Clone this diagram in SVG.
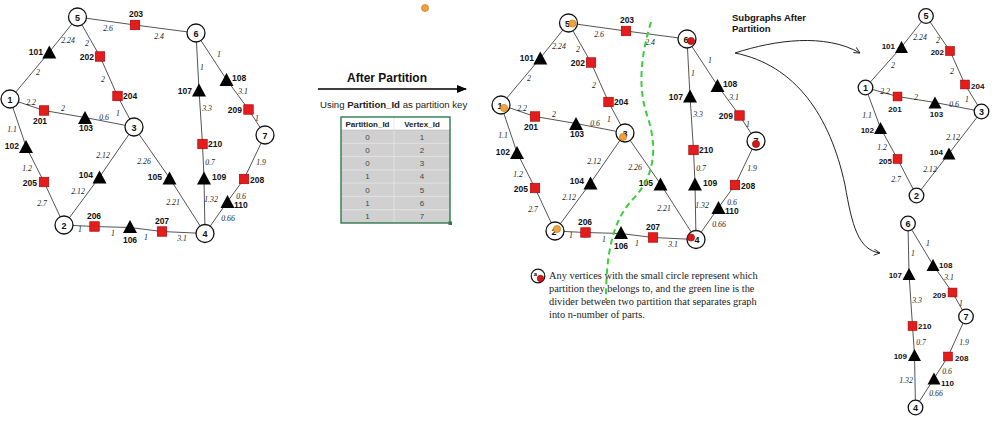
<svg xmlns="http://www.w3.org/2000/svg" xmlns:xlink="http://www.w3.org/1999/xlink" width="999" height="421" viewBox="0 0 999 421">
<style>
.e{stroke:#555;stroke-width:1;fill:none}
.c{fill:#fff;stroke:#111;stroke-width:1.3}
.n{font:bold 9px "Liberation Sans",Arial,sans-serif;fill:#111;text-anchor:middle}
.id{font:bold 8.5px "Liberation Sans",Arial,sans-serif;fill:#111}
.id2{font:bold 8px "Liberation Sans",Arial,sans-serif;fill:#111}
.w{font:italic 7.8px "Liberation Serif","Times New Roman",serif;fill:#222;text-anchor:middle}
.m{text-anchor:middle}.s{text-anchor:start}.x{text-anchor:end}
.od{fill:#f2a23a;stroke:#b96d10;stroke-width:0.6}
.rd{fill:#d81818;stroke:#7a0000;stroke-width:0.6}
.tb{font:8px "Liberation Sans",Arial,sans-serif;fill:#444;text-anchor:middle}
.th{font:bold 8px "Liberation Sans",Arial,sans-serif;fill:#222;text-anchor:middle}
.lg{font:10.4px "Liberation Serif","Times New Roman",serif;fill:#222}
</style>
<defs>
<polygon id="tri" points="0,-6.5 7,6.5 -7,6.5" fill="#000"/>
<polygon id="tri2" points="0,-6 6.5,6 -6.5,6" fill="#000"/>
<rect id="sq" x="-4.75" y="-4.75" width="9.5" height="9.5" fill="#e41c1c" stroke="#9a0000" stroke-width="0.6"/>
<rect id="sq2" x="-4.4" y="-4.4" width="8.8" height="8.8" fill="#e41c1c" stroke="#9a0000" stroke-width="0.6"/>
<marker id="ah" viewBox="0 0 10 8" refX="9" refY="4" markerWidth="10" markerHeight="8" markerUnits="userSpaceOnUse" orient="auto"><path d="M0,0 L10,4 L0,8 Z" fill="#000"/></marker>
<marker id="av" viewBox="0 0 8 8" refX="7" refY="4" markerWidth="7" markerHeight="7" markerUnits="userSpaceOnUse" orient="auto"><path d="M0,0.5 L7,4 L0,7.5" fill="none" stroke="#222" stroke-width="1"/></marker>
</defs>
<rect width="999" height="421" fill="#fff"/>

<!-- LEFT GRAPH -->
<g id="left-graph">
<g id="L-edges">
<polyline class="e" points="77.5,17 135,25 196,33"/>
<polyline class="e" points="77.5,17 49.3,52 10,99"/>
<polyline class="e" points="77.5,17 100,56.5 117.5,96 134,127"/>
<polyline class="e" points="10,99 44,110.5 85,117.5 134,127"/>
<polyline class="e" points="10,99 26,146.5 44,182 64,225"/>
<polyline class="e" points="134,127 99.5,177 64,225"/>
<polyline class="e" points="64,225 94.5,226.5 130,227.5 162,231.5 205,233.5"/>
<polyline class="e" points="134,127 169.5,178 205,233.5"/>
<polyline class="e" points="196,33 199,90 202.5,144 204,178 205,233.5"/>
<polyline class="e" points="196,33 226.5,79.5 248.5,109.5 265,135"/>
<polyline class="e" points="265,135 244,179 227.5,201.5 205,233.5"/>
</g>
<g id="L-weights">
<text class="w" x="108" y="31">2.6</text><text class="w" x="159" y="39">2.4</text>
<text class="w" x="68" y="43">2.24</text><text class="w" x="38" y="75">2</text>
<text class="w" x="87" y="46">2</text><text class="w" x="103" y="82">2</text><text class="w" x="118" y="116">1</text>
<text class="w" x="31" y="105">2.2</text><text class="w" x="63" y="111">2</text><text class="w" x="104" y="120">0.6</text>
<text class="w" x="12" y="132">1.1</text><text class="w" x="27" y="171">1.2</text><text class="w" x="42" y="206">2.7</text>
<text class="w" x="103" y="158">2.12</text><text class="w" x="78" y="194">2.12</text>
<text class="w" x="144" y="164">2.26</text><text class="w" x="173" y="205">2.21</text>
<text class="w" x="80" y="232">1</text><text class="w" x="113" y="236">1</text><text class="w" x="146" y="240">1</text><text class="w" x="182" y="241">3.1</text>
<text class="w" x="202" y="70">1</text><text class="w" x="207" y="111">3.3</text><text class="w" x="210" y="165">0.7</text><text class="w" x="211" y="202">1.32</text>
<text class="w" x="219" y="57">1</text><text class="w" x="243" y="94">3.1</text><text class="w" x="257" y="121">1</text>
<text class="w" x="261" y="165">1.9</text><text class="w" x="241" y="199">0.6</text><text class="w" x="228" y="221">0.66</text>
</g>
<g id="L-203"><use href="#sq" x="135" y="25"/><text class="id m" x="136" y="17">203</text></g>
<g id="L-101"><use href="#tri" x="49.3" y="52"/><text class="id x" x="43" y="55">101</text></g>
<g id="L-202"><use href="#sq" x="100" y="56.5"/><text class="id x" x="94" y="60">202</text></g>
<g id="L-204"><use href="#sq" x="117.5" y="96"/><text class="id s" x="123" y="99">204</text></g>
<g id="L-201"><use href="#sq" x="44" y="110.5"/><text class="id m" x="40" y="124">201</text></g>
<g id="L-103"><use href="#tri" x="85" y="117.5"/><text class="id m" x="86" y="131">103</text></g>
<g id="L-102"><use href="#tri" x="26" y="146.5"/><text class="id x" x="19" y="148.5">102</text></g>
<g id="L-205"><use href="#sq" x="44" y="182"/><text class="id x" x="37" y="186">205</text></g>
<g id="L-104"><use href="#tri" x="99.5" y="177"/><text class="id x" x="93" y="178">104</text></g>
<g id="L-105"><use href="#tri" x="169.5" y="178"/><text class="id x" x="162" y="180">105</text></g>
<g id="L-206"><use href="#sq" x="94.5" y="226.5"/><text class="id m" x="94" y="219">206</text></g>
<g id="L-106"><use href="#tri" x="130" y="226.5"/><text class="id m" x="130" y="243">106</text></g>
<g id="L-207"><use href="#sq" x="162" y="231.5"/><text class="id m" x="162" y="224">207</text></g>
<g id="L-107"><use href="#tri" x="199" y="90"/><text class="id x" x="192" y="94">107</text></g>
<g id="L-210"><use href="#sq" x="202.5" y="144"/><text class="id s" x="208" y="147">210</text></g>
<g id="L-109"><use href="#tri" x="204" y="178"/><text class="id s" x="212" y="180">109</text></g>
<g id="L-108"><use href="#tri" x="226.5" y="79.5"/><text class="id s" x="232" y="81">108</text></g>
<g id="L-209"><use href="#sq" x="248.5" y="109.5"/><text class="id x" x="242" y="113">209</text></g>
<g id="L-208"><use href="#sq" x="244" y="179"/><text class="id s" x="250" y="183">208</text></g>
<g id="L-110"><use href="#tri" x="227.5" y="201.5"/><text class="id s" x="234" y="208">110</text></g>
<g id="L-n5"><circle class="c" cx="77.5" cy="17" r="9"/><text class="n" x="77.5" y="20.5">5</text></g>
<g id="L-n6"><circle class="c" cx="196" cy="33" r="9"/><text class="n" x="196" y="36.5">6</text></g>
<g id="L-n1"><circle class="c" cx="10" cy="99" r="9"/><text class="n" x="10" y="102.5">1</text></g>
<g id="L-n3"><circle class="c" cx="134" cy="127" r="9"/><text class="n" x="134" y="130.5">3</text></g>
<g id="L-n7"><circle class="c" cx="265" cy="135" r="9"/><text class="n" x="265" y="138.5">7</text></g>
<g id="L-n2"><circle class="c" cx="64" cy="225" r="9"/><text class="n" x="64" y="228.5">2</text></g>
<g id="L-n4"><circle class="c" cx="205" cy="233.5" r="9"/><text class="n" x="205" y="237">4</text></g>
</g>

<!-- MIDDLE: arrow, caption, table -->
<g id="orange-dot"><circle class="od" cx="425" cy="8" r="3.5"/></g>
<g id="after-partition">
<text x="387" y="82" style="font:bold 12px 'Liberation Sans',Arial,sans-serif;fill:#111;text-anchor:middle">After Partition</text>
<line x1="318" y1="89" x2="466" y2="89" stroke="#000" stroke-width="1.3" marker-end="url(#ah)"/>
<text x="320" y="108" style="font:9.6px 'Liberation Sans',Arial,sans-serif;fill:#222">Using <tspan font-weight="bold">Partition_Id</tspan> as partition key</text>
</g>
<g id="table">
<rect x="341" y="117" width="109" height="106" fill="#d0d0d0"/>
<rect x="341" y="117" width="109" height="13" fill="#fff"/>
<g stroke="#e6e6e6" stroke-width="0.8">
<line x1="341" y1="143.3" x2="450" y2="143.3"/><line x1="341" y1="156.6" x2="450" y2="156.6"/>
<line x1="341" y1="169.9" x2="450" y2="169.9"/><line x1="341" y1="183.1" x2="450" y2="183.1"/>
<line x1="341" y1="196.4" x2="450" y2="196.4"/><line x1="341" y1="209.7" x2="450" y2="209.7"/>
<line x1="394" y1="117" x2="394" y2="223"/>
</g>
<line x1="341" y1="130" x2="450" y2="130" stroke="#bbb" stroke-width="0.6"/>
<rect x="341" y="117" width="109" height="106" fill="none" stroke="#2f7a4c" stroke-width="1.4"/>
<rect x="448.5" y="221.5" width="3.5" height="3.5" fill="#2f7a4c"/>
<text class="th" x="367.5" y="126.5">Partition_Id</text><text class="th" x="422" y="126.5">Vertex_Id</text>
<text class="tb" x="367.5" y="139.5">0</text><text class="tb" x="422" y="139.5">1</text>
<text class="tb" x="367.5" y="152.8">0</text><text class="tb" x="422" y="152.8">2</text>
<text class="tb" x="367.5" y="166.1">0</text><text class="tb" x="422" y="166.1">3</text>
<text class="tb" x="367.5" y="179.4">1</text><text class="tb" x="422" y="179.4">4</text>
<text class="tb" x="367.5" y="192.7">0</text><text class="tb" x="422" y="192.7">5</text>
<text class="tb" x="367.5" y="206">1</text><text class="tb" x="422" y="206">6</text>
<text class="tb" x="367.5" y="219.3">1</text><text class="tb" x="422" y="219.3">7</text>
</g>

<!-- MIDDLE GRAPH (partitioned) -->
<g id="mid-graph" transform="translate(491,6)">
<g id="M-edges">
<polyline class="e" points="77.5,17 135,25 196,33"/>
<polyline class="e" points="77.5,17 49.3,52 10,99"/>
<polyline class="e" points="77.5,17 100,56.5 117.5,96 134,127"/>
<polyline class="e" points="10,99 44,110.5 85,117.5 134,127"/>
<polyline class="e" points="10,99 26,146.5 44,182 64,225"/>
<polyline class="e" points="134,127 99.5,177 64,225"/>
<polyline class="e" points="64,225 94.5,226.5 130,227.5 162,231.5 205,233.5"/>
<polyline class="e" points="134,127 169.5,178 205,233.5"/>
<polyline class="e" points="196,33 199,90 202.5,144 204,178 205,233.5"/>
<polyline class="e" points="196,33 226.5,79.5 248.5,109.5 265,135"/>
<polyline class="e" points="265,135 244,179 227.5,201.5 205,233.5"/>
</g>
<g id="M-weights">
<text class="w" x="108" y="31">2.6</text><text class="w" x="159" y="39">2.4</text>
<text class="w" x="68" y="43">2.24</text><text class="w" x="38" y="75">2</text>
<text class="w" x="87" y="46">2</text><text class="w" x="103" y="82">2</text><text class="w" x="118" y="116">1</text>
<text class="w" x="31" y="105">2.2</text><text class="w" x="63" y="111">2</text><text class="w" x="104" y="120">0.6</text>
<text class="w" x="12" y="132">1.1</text><text class="w" x="27" y="171">1.2</text><text class="w" x="42" y="206">2.7</text>
<text class="w" x="103" y="158">2.12</text><text class="w" x="78" y="194">2.12</text>
<text class="w" x="144" y="164">2.26</text><text class="w" x="173" y="205">2.21</text>
<text class="w" x="80" y="232">1</text><text class="w" x="113" y="236">1</text><text class="w" x="146" y="240">1</text><text class="w" x="182" y="241">3.1</text>
<text class="w" x="202" y="70">1</text><text class="w" x="207" y="111">3.3</text><text class="w" x="210" y="165">0.7</text><text class="w" x="211" y="202">1.32</text>
<text class="w" x="219" y="57">1</text><text class="w" x="243" y="94">3.1</text><text class="w" x="257" y="121">1</text>
<text class="w" x="261" y="165">1.9</text><text class="w" x="241" y="199">0.6</text><text class="w" x="228" y="221">0.66</text>
</g>
<g id="M-203"><use href="#sq" x="135" y="25"/><text class="id m" x="136" y="17">203</text></g>
<g id="M-101"><use href="#tri" x="49.3" y="52"/><text class="id x" x="43" y="55">101</text></g>
<g id="M-202"><use href="#sq" x="100" y="56.5"/><text class="id x" x="94" y="60">202</text></g>
<g id="M-204"><use href="#sq" x="117.5" y="96"/><text class="id s" x="123" y="99">204</text></g>
<g id="M-201"><use href="#sq" x="44" y="110.5"/><text class="id m" x="40" y="124">201</text></g>
<g id="M-103"><use href="#tri" x="85" y="117.5"/><text class="id m" x="86" y="131">103</text></g>
<g id="M-102"><use href="#tri" x="26" y="146.5"/><text class="id x" x="19" y="148.5">102</text></g>
<g id="M-205"><use href="#sq" x="44" y="182"/><text class="id x" x="37" y="186">205</text></g>
<g id="M-104"><use href="#tri" x="99.5" y="177"/><text class="id x" x="93" y="178">104</text></g>
<g id="M-105"><use href="#tri" x="169.5" y="178"/><text class="id x" x="162" y="180">105</text></g>
<g id="M-206"><use href="#sq" x="94.5" y="226.5"/><text class="id m" x="94" y="219">206</text></g>
<g id="M-106"><use href="#tri" x="130" y="226.5"/><text class="id m" x="130" y="243">106</text></g>
<g id="M-207"><use href="#sq" x="162" y="231.5"/><text class="id m" x="162" y="224">207</text></g>
<g id="M-107"><use href="#tri" x="199" y="90"/><text class="id x" x="192" y="94">107</text></g>
<g id="M-210"><use href="#sq" x="202.5" y="144"/><text class="id s" x="208" y="147">210</text></g>
<g id="M-109"><use href="#tri" x="204" y="178"/><text class="id s" x="212" y="180">109</text></g>
<g id="M-108"><use href="#tri" x="226.5" y="79.5"/><text class="id s" x="232" y="81">108</text></g>
<g id="M-209"><use href="#sq" x="248.5" y="109.5"/><text class="id x" x="242" y="113">209</text></g>
<g id="M-208"><use href="#sq" x="244" y="179"/><text class="id s" x="250" y="183">208</text></g>
<g id="M-110"><use href="#tri" x="227.5" y="201.5"/><text class="id s" x="234" y="208">110</text></g>
<g id="M-n5"><circle class="c" cx="77.5" cy="17" r="9"/><text class="n" x="76.5" y="20.5">5</text><circle class="od" cx="81.5" cy="17.5" r="3.6"/></g>
<g id="M-n6"><circle class="c" cx="196" cy="33" r="9"/><text class="n" x="195" y="36.5">6</text><circle class="rd" cx="200" cy="35" r="3.6"/></g>
<g id="M-n1"><circle class="c" cx="10" cy="99" r="9"/><text class="n" x="9" y="102.5">1</text><circle class="od" cx="13" cy="102" r="3.6"/></g>
<g id="M-n3"><circle class="c" cx="134" cy="127" r="9"/><text class="n" x="134" y="130.5">3</text><circle class="od" cx="132" cy="131" r="3.6"/></g>
<g id="M-n7"><circle class="c" cx="265" cy="135" r="9"/><text class="n" x="265" y="137.5">7</text><circle class="rd" cx="265" cy="138" r="3.6"/></g>
<g id="M-n2"><circle class="c" cx="64" cy="225" r="9"/><text class="n" x="63" y="228.5">2</text><circle class="od" cx="66" cy="223" r="3.6"/></g>
<g id="M-n4"><circle class="c" cx="205" cy="233.5" r="9"/><text class="n" x="206" y="237">4</text><circle class="rd" cx="200" cy="231.5" r="3.6"/></g>
</g>
<g id="divider">
<path d="M651,22 C641,55 637,88 648,118 C658,150 654,178 632,200 C612,222 606,255 606,300" fill="none" stroke="#3ccf3c" stroke-width="2" stroke-dasharray="6,4"/>
</g>

<!-- LEGEND -->
<g id="legend">
<circle cx="538" cy="276" r="6.8" fill="#fff" stroke="#111" stroke-width="1.2"/>
<text x="535.5" y="276" style="font:bold 6px 'Liberation Sans',Arial,sans-serif;fill:#111;text-anchor:middle">a</text>
<circle class="rd" cx="540.5" cy="278.5" r="3.2"/>
<text class="lg" x="549" y="279">Any vertices with the small circle represent which</text>
<text class="lg" x="549" y="292">partition they belongs to, and the green line is the</text>
<text class="lg" x="549" y="305">divider between two partition that separates graph</text>
<text class="lg" x="549" y="318">into n-number of parts.</text>
</g>

<!-- SUBGRAPH CAPTION + ARROWS -->
<g id="subgraph-caption">
<text x="732" y="21" style="font:bold 9.5px 'Liberation Sans',Arial,sans-serif;fill:#111">Subgraphs After</text>
<text x="732" y="32" style="font:bold 9.5px 'Liberation Sans',Arial,sans-serif;fill:#111">Partition</text>
</g>
<g id="curve-arrows">
<path d="M735,53 C775,40 825,33 860,53" fill="none" stroke="#222" stroke-width="1" marker-end="url(#av)"/>
<path d="M735,53 C795,65 830,115 845,185 C852,225 858,250 880,253" fill="none" stroke="#222" stroke-width="1" marker-end="url(#av)"/>
</g>

<!-- RIGHT TOP SUBGRAPH (partition 0) -->
<g id="sub0">
<g id="R0-edges">
<polyline class="e" points="926,16 901.5,47 865.5,87.5"/>
<polyline class="e" points="926,16 950,51 965,84.5 981.5,111.5"/>
<polyline class="e" points="865.5,87.5 897.5,96.5 935,102.5 981.5,111.5"/>
<polyline class="e" points="865.5,87.5 880.5,128 897.5,159 916.5,195.5"/>
<polyline class="e" points="981.5,111.5 949,153.5 916.5,195.5"/>
</g>
<g id="R0-weights">
<text class="w" x="920" y="40">2.24</text><text class="w" x="893" y="68">2</text>
<text class="w" x="938" y="43">2</text><text class="w" x="952" y="74">2</text><text class="w" x="967" y="102">1</text>
<text class="w" x="885" y="94">2.2</text><text class="w" x="916" y="100">2</text><text class="w" x="954" y="107">0.6</text>
<text class="w" x="867" y="118">1.1</text><text class="w" x="882" y="150">1.2</text><text class="w" x="896" y="182">2.7</text>
<text class="w" x="953" y="140">2.12</text><text class="w" x="930" y="172">2.12</text>
</g>
<g id="R0-101"><use href="#tri2" x="901.5" y="47"/><text class="id2 x" x="895" y="49">101</text></g>
<g id="R0-202"><use href="#sq2" x="950" y="51"/><text class="id2 x" x="944" y="55">202</text></g>
<g id="R0-204"><use href="#sq2" x="965" y="84.5"/><text class="id2 s" x="971" y="88.5">204</text></g>
<g id="R0-201"><use href="#sq2" x="897.5" y="96.5"/><text class="id2 m" x="895" y="112">201</text></g>
<g id="R0-103"><use href="#tri2" x="935" y="102.5"/><text class="id2 m" x="936.5" y="117">103</text></g>
<g id="R0-102"><use href="#tri2" x="880.5" y="128"/><text class="id2 x" x="874" y="133">102</text></g>
<g id="R0-205"><use href="#sq2" x="897.5" y="159"/><text class="id2 x" x="892" y="163.5">205</text></g>
<g id="R0-104"><use href="#tri2" x="949" y="153.5"/><text class="id2 x" x="943" y="155">104</text></g>
<g id="R0-n5"><circle class="c" cx="926" cy="16" r="7.3"/><text class="n" x="926" y="19.3">5</text></g>
<g id="R0-n1"><circle class="c" cx="865.5" cy="87.5" r="7.3"/><text class="n" x="865.5" y="90.8">1</text></g>
<g id="R0-n3"><circle class="c" cx="981.5" cy="111.5" r="7.3"/><text class="n" x="981.5" y="114.8">3</text></g>
<g id="R0-n2"><circle class="c" cx="916.5" cy="195.5" r="7.3"/><text class="n" x="916.5" y="198.8">2</text></g>
</g>

<!-- RIGHT BOTTOM SUBGRAPH (partition 1) -->
<g id="sub1">
<g id="R1-edges">
<polyline class="e" points="908,223.5 909,274 912.5,326 914.5,355 915.5,407.5"/>
<polyline class="e" points="908,223.5 933,265 952.5,292.5 966,316.5"/>
<polyline class="e" points="966,316.5 948,356.5 934,378.5 915.5,407.5"/>
</g>
<g id="R1-weights">
<text class="w" x="913" y="256">1</text><text class="w" x="917" y="303">3.3</text><text class="w" x="921" y="345">0.7</text><text class="w" x="906" y="383">1.32</text>
<text class="w" x="928" y="246">1</text><text class="w" x="949" y="280">3.1</text><text class="w" x="961" y="306">1</text>
<text class="w" x="964" y="345">1.9</text><text class="w" x="947" y="374">0.6</text><text class="w" x="936" y="396">0.66</text>
</g>
<g id="R1-107"><use href="#tri2" x="909" y="274"/><text class="id2 x" x="902" y="278">107</text></g>
<g id="R1-210"><use href="#sq2" x="912.5" y="326"/><text class="id2 s" x="918" y="329">210</text></g>
<g id="R1-109"><use href="#tri2" x="914.5" y="355"/><text class="id2 x" x="907" y="359">109</text></g>
<g id="R1-108"><use href="#tri2" x="933" y="265"/><text class="id2 s" x="939" y="268">108</text></g>
<g id="R1-209"><use href="#sq2" x="952.5" y="292.5"/><text class="id2 x" x="946" y="297.5">209</text></g>
<g id="R1-208"><use href="#sq2" x="948" y="356.5"/><text class="id2 s" x="955" y="361">208</text></g>
<g id="R1-110"><use href="#tri2" x="934" y="378.5"/><text class="id2 s" x="941" y="386">110</text></g>
<g id="R1-n6"><circle class="c" cx="908" cy="223.5" r="7.3"/><text class="n" x="908" y="226.8">6</text></g>
<g id="R1-n7"><circle class="c" cx="966" cy="316.5" r="7.3"/><text class="n" x="966" y="319.8">7</text></g>
<g id="R1-n4"><circle class="c" cx="915.5" cy="407.5" r="7.3"/><text class="n" x="915.5" y="410.8">4</text></g>
</g>
</svg>
